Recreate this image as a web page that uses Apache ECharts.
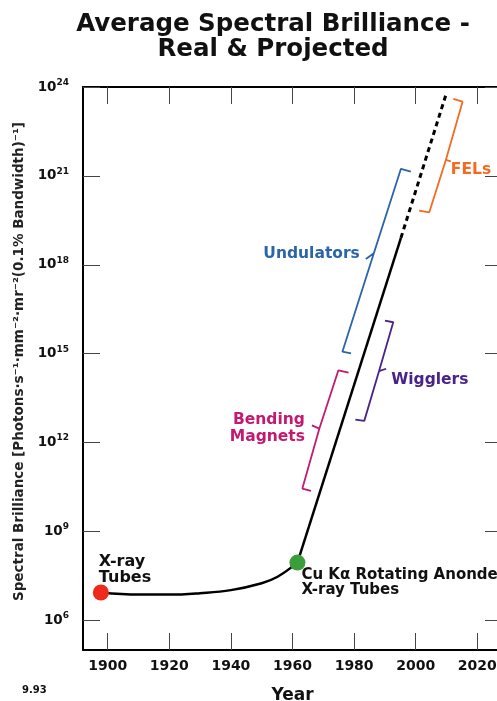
<!DOCTYPE html>
<html>
<head>
<meta charset="utf-8">
<title>Average Spectral Brilliance</title>
<script src="https://cdn.jsdelivr.net/npm/echarts@6/dist/echarts.min.js"></script>
<style>
    * { margin: 0; padding: 0; }
    #main { width: 497px; height: 701px; }
</style>
</head>
<body>
<div id="main"></div>
<script>
    var yearTicks = [1900, 1920, 1940, 1960, 1980, 2000, 2020];
    var powerTicks = [1e6, 1e9, 1e12, 1e15, 1e18, 1e21, 1e24];

    // x-ray tubes, red dot to the rotating anode
    var tubeCurve = [[1897.8, 8.7e6], [1910, 7.4e6], [1920, 7.4e6], [1930, 8.3e6],
        [1940, 1.05e7], [1950, 1.8e7], [1955, 2.9e7], [1961.6, 8.9e7]];
    var sourceRise = [[1961.6, 8.9e7], [1995.2, 8.1e18]];
    var projected = [[1995.2, 8.1e18], [2009.8, 5.5e23]];
    var xrayTubes = [1897.8, 8.7e6];
    var rotatingAnode = [1961.6, 8.9e7];

    // brackets: serif, end, middle, tick, middle, end, serif
    var undulators = [[1998.4, 1.4e21], [1995.2, 1.74e21], [1986.4, 2.45e18], [1983.8, 1.58e18],
        [1986.4, 2.45e18], [1976.2, 1.17e15], [1979, 1.02e15]];
    var bending = [[1978.2, 2.3e14], [1974.9, 2.75e14], [1968.7, 2.95e12], [1966.3, 3.8e12],
        [1968.7, 2.95e12], [1963.2, 2.8e10], [1966, 2.35e10]];
    var wigglers = [[1990, 1.3e16], [1992.7, 1.15e16], [1988.1, 2.6e14], [1990.4, 3.1e14],
        [1988.1, 2.6e14], [1983.3, 5.4e12], [1980.4, 6e12]];
    var fels = [[2012.2, 4e23], [2015.2, 3.2e23], [2009.8, 3.5e21], [2011.4, 3.1e21],
        [2009.8, 3.5e21], [2004.4, 5.9e19], [2001.1, 6.7e19]];

    var FONT = 'DejaVu Sans';
    var myChart = echarts.init(document.getElementById('main'));

    function bracket(name, pts, color, label) {
        var data = pts.map(function (p, i) {
            if (i === 3) {
                return { value: p, label: Object.assign({ show: true, formatter: name, color: color,
                    fontFamily: FONT, fontWeight: 'bold', fontSize: 15.5, lineHeight: 17 }, label) };
            }
            return p;
        });
        return {
            name: name, type: 'line', data: data, symbol: 'circle', symbolSize: 0,
            showSymbol: true, clip: false,
            lineStyle: { color: color, width: 1.8 }, itemStyle: { color: color },
            label: { show: false }, emphasis: { disabled: true }, z: 3
        };
    }

    var xBase = {
        type: 'value', min: 1892, max: 2028,
        axisLine: { lineStyle: { color: '#000', width: 2 } },
        axisTick: { inside: true, length: 17, customValues: yearTicks, lineStyle: { color: '#444', width: 1 } },
        splitLine: { show: false }
    };
    // max a hair above 1e24 so the top tick survives rounding
    var yBase = {
        type: 'log', logBase: 10, min: 1e5, max: 1.000001e24,
        axisLine: { lineStyle: { color: '#000', width: 2 } },
        axisTick: { inside: true, length: 17, customValues: powerTicks, lineStyle: { color: '#444', width: 1 } },
        splitLine: { show: false }
    };

    option = {
        animation: false,
        title: {
            text: 'Average Spectral Brilliance -\nReal & Projected',
            left: 268, top: 7, textAlign: 'center',
            textStyle: { fontFamily: FONT, fontWeight: 'bold', fontSize: 24.5, lineHeight: 25, color: '#111' }
        },
        grid: { left: 83, top: 87, width: 419, height: 563, outerBoundsMode: 'none', containLabel: false },
        xAxis: [
            Object.assign({}, xBase, {
                position: 'bottom',
                name: 'Year', nameLocation: 'middle', nameGap: 37,
                nameTextStyle: { fontFamily: FONT, fontWeight: 'bold', fontSize: 17, color: '#111' },
                axisLabel: {
                    customValues: yearTicks, margin: 9, fontFamily: FONT, fontWeight: 'bold', fontSize: 14, color: '#111',
                    formatter: function (v) { return String(v); }
                }
            }),
            Object.assign({}, xBase, { position: 'top', axisLabel: { show: false } })
        ],
        yAxis: [
            Object.assign({}, yBase, {
                position: 'left',
                name: 'Spectral Brilliance [Photons\u00b7s\u207b\u00b9\u00b7mm\u207b\u00b2\u00b7mr\u207b\u00b2(0.1% Bandwidth)\u207b\u00b9]',
                nameLocation: 'middle', nameGap: 56, nameRotate: 90,
                nameTextStyle: { fontFamily: FONT, fontWeight: 'bold', fontSize: 13.5, color: '#222', padding: [0, 0, 0, 14] },
                axisLabel: {
                    customValues: powerTicks, margin: 14,
                    formatter: function (v) {
                        return '{b|10}{s|' + Math.round(Math.log10(v)) + '}';
                    },
                    rich: {
                        b: { fontFamily: FONT, fontWeight: 'bold', fontSize: 13.5, color: '#111' },
                        s: { fontFamily: FONT, fontWeight: 'bold', fontSize: 9, color: '#111', padding: [0, 0, 9, 0] }
                    }
                }
            }),
            Object.assign({}, yBase, { position: 'right', axisLabel: { show: false } })
        ],
        graphic: [{
            type: 'text', left: 22, top: 685,
            style: { text: '9.93', fontFamily: FONT, fontWeight: 'bold', fontSize: 10, fill: '#111' }
        }],
        series: [
            {
                type: 'line', data: tubeCurve, smooth: 0.4, symbol: 'none',
                lineStyle: { color: '#000', width: 2.5 }, emphasis: { disabled: true }, z: 4
            },
            {
                type: 'line', data: sourceRise, symbol: 'none',
                lineStyle: { color: '#000', width: 2.5 }, emphasis: { disabled: true }, z: 4
            },
            {
                type: 'line', data: projected, symbol: 'none',
                lineStyle: { color: '#000', width: 3, type: [5, 4] }, emphasis: { disabled: true }, z: 4
            },
            bracket('Undulators', undulators, '#2b64a8', { position: 'left', distance: 6, offset: [0, -5] }),
            bracket('Bending\nMagnets', bending, '#c21a70', { position: 'left', distance: 7, offset: [0, 3] }),
            bracket('Wigglers', wigglers, '#4a2389', { position: 'right', distance: 5, offset: [0, 11] }),
            bracket('FELs', fels, '#f26b21', { position: 'right', distance: 0, offset: [0, 9] }),
            {
                type: 'scatter', data: [xrayTubes], symbolSize: 16,
                itemStyle: { color: '#ee2a1e', opacity: 1 }, emphasis: { disabled: true }, z: 5,
                label: {
                    show: true, formatter: 'X-ray\nTubes', position: [6, -31], align: 'left', verticalAlign: 'top',
                    fontFamily: FONT, fontWeight: 'bold', fontSize: 16, lineHeight: 16, color: '#111'
                }
            },
            {
                type: 'scatter', data: [rotatingAnode], symbolSize: 16,
                itemStyle: { color: '#3c9e3a', opacity: 1 }, emphasis: { disabled: true }, z: 5,
                label: {
                    show: true, formatter: 'Cu K\u03b1 Rotating Anonde\nX-ray Tubes', position: [12, 13],
                    align: 'left', verticalAlign: 'top',
                    fontFamily: FONT, fontWeight: 'bold', fontSize: 15, lineHeight: 15, color: '#111'
                }
            }
        ]
    };

    myChart.setOption(option);
</script>
</body>
</html>
